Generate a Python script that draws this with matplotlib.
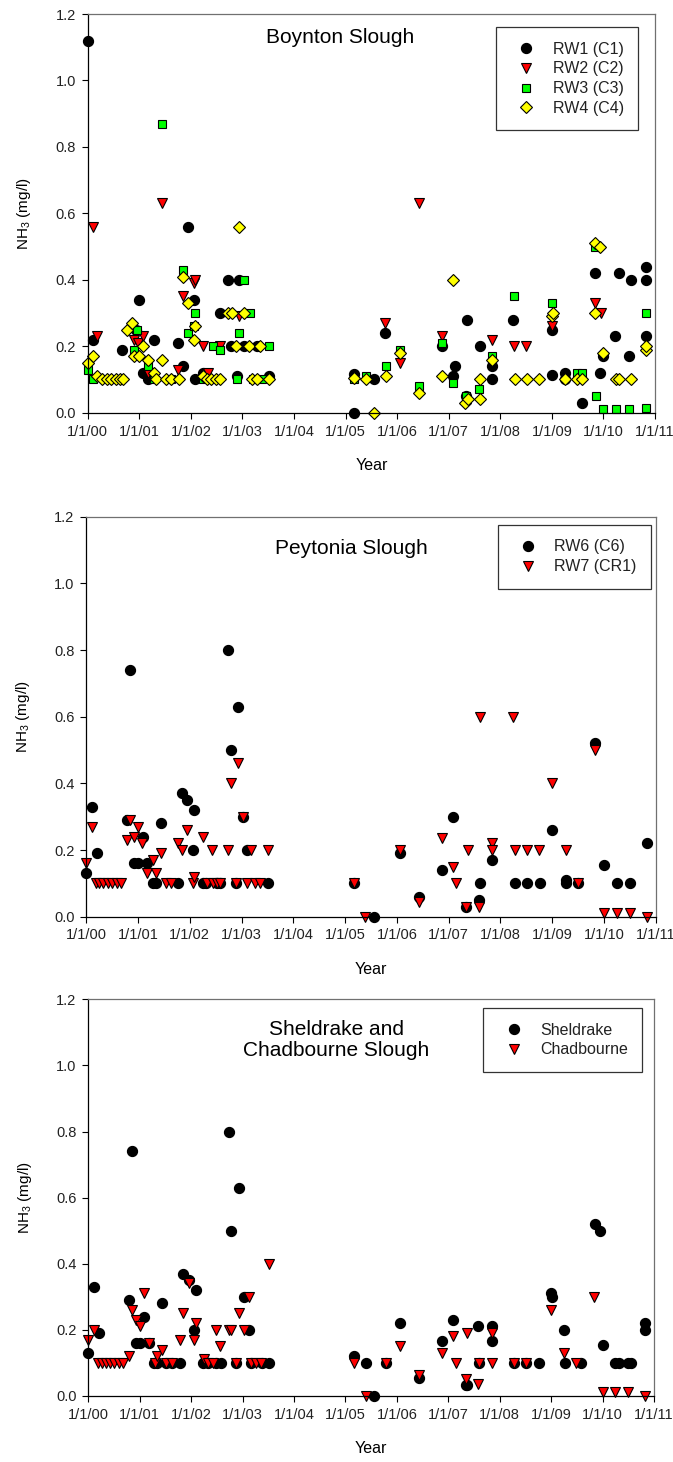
import matplotlib
matplotlib.use('Agg')
import matplotlib.pyplot as plt

plt.rcParams['font.family'] = ['Liberation Sans', 'DejaVu Sans']
plt.rcParams['mathtext.default'] = 'regular'

# --- Boynton Slough (decimal years, mg/l) ---
rw1_x = [2000.00, 2000.11, 2000.67, 2000.94, 2000.99, 2001.08, 2001.16, 2001.29, 2001.76, 2001.84,
         2001.94, 2002.06, 2002.09, 2002.24, 2002.57, 2002.72, 2002.78, 2002.89, 2002.93, 2003.03,
         2003.28, 2003.51,
         2005.17, 2005.17, 2005.55, 2005.77, 2006.87, 2007.08, 2007.13, 2007.34, 2007.35, 2007.60,
         2007.84, 2007.84, 2008.24, 2009.00, 2009.01, 2009.25, 2009.25, 2009.58, 2009.83, 2009.94,
         2010.00, 2010.23, 2010.31, 2010.49, 2010.54, 2010.83, 2010.83, 2010.83]
rw1_y = [1.12, 0.22, 0.19, 0.25, 0.34, 0.12, 0.10, 0.22, 0.21, 0.14,
         0.56, 0.34, 0.10, 0.12, 0.30, 0.40, 0.20, 0.11, 0.40, 0.20,
         0.20, 0.11,
         0.00, 0.116, 0.10, 0.24, 0.20, 0.11, 0.14, 0.05, 0.28, 0.20,
         0.14, 0.10, 0.28, 0.25, 0.114, 0.12, 0.10, 0.03, 0.42, 0.12,
         0.17, 0.23, 0.42, 0.17, 0.40, 0.44, 0.40, 0.23]

rw2_x = [2000.11, 2000.19, 2000.90, 2000.97, 2001.08, 2001.16, 2001.44, 2001.76, 2001.84, 2002.06,
         2002.09, 2002.24, 2002.34, 2002.57, 2002.94,
         2005.77, 2006.06, 2006.43, 2006.87, 2007.84, 2008.26, 2008.50, 2009.00, 2009.83, 2009.95]
rw2_y = [0.56, 0.23, 0.22, 0.21, 0.23, 0.12, 0.63, 0.13, 0.35, 0.39,
         0.40, 0.20, 0.12, 0.20, 0.29,
         0.27, 0.15, 0.63, 0.23, 0.22, 0.20, 0.20, 0.26, 0.33, 0.30]

rw3_x = [2000.00, 2000.10, 2000.90, 2000.95, 2001.16, 2001.28, 2001.44, 2001.61, 2001.84, 2001.94,
         2002.06, 2002.09, 2002.24, 2002.42, 2002.57, 2002.89, 2002.94, 2003.03, 2003.14, 2003.21,
         2003.37, 2003.52,
         2005.17, 2005.39, 2005.79, 2006.06, 2006.43, 2006.87, 2007.08, 2007.34, 2007.58, 2007.84,
         2008.26, 2009.00, 2009.48, 2009.58, 2009.84, 2009.86, 2010.00, 2010.25, 2010.49, 2010.83,
         2010.83]
rw3_y = [0.13, 0.10, 0.19, 0.25, 0.14, 0.10, 0.87, 0.10, 0.43, 0.24,
         0.26, 0.30, 0.10, 0.20, 0.19, 0.10, 0.24, 0.40, 0.30, 0.10,
         0.10, 0.20,
         0.10, 0.11, 0.14, 0.19, 0.08, 0.21, 0.09, 0.05, 0.07, 0.17,
         0.35, 0.33, 0.12, 0.12, 0.50, 0.05, 0.01, 0.01, 0.01, 0.015,
         0.30]

rw4_x = [2000.00, 2000.11, 2000.19, 2000.28, 2000.37, 2000.46, 2000.55, 2000.63, 2000.69, 2000.77,
         2000.85, 2000.90, 2001.00, 2001.08, 2001.17, 2001.29, 2001.33, 2001.44, 2001.52, 2001.61,
         2001.78, 2001.84, 2001.94, 2002.06, 2002.09, 2002.24, 2002.32, 2002.40, 2002.48, 2002.57,
         2002.73, 2002.79, 2002.88, 2002.94, 2003.03, 2003.12, 2003.19, 2003.28, 2003.35, 2003.51,
         2005.17, 2005.39, 2005.55, 2005.79, 2006.06, 2006.43, 2006.87, 2007.08, 2007.32, 2007.37,
         2007.60, 2007.60, 2007.84, 2008.29, 2008.52, 2008.75, 2009.00, 2009.02, 2009.26, 2009.48,
         2009.58, 2009.84, 2009.94, 2009.83, 2010.00, 2010.25, 2010.31, 2010.54, 2010.83, 2010.83]
rw4_y = [0.15, 0.17, 0.11, 0.10, 0.10, 0.10, 0.10, 0.10, 0.10, 0.25,
         0.27, 0.17, 0.17, 0.20, 0.16, 0.12, 0.10, 0.16, 0.10, 0.10,
         0.10, 0.41, 0.33, 0.22, 0.26, 0.11, 0.10, 0.10, 0.10, 0.10,
         0.30, 0.30, 0.20, 0.56, 0.30, 0.20, 0.10, 0.10, 0.20, 0.10,
         0.105, 0.10, 0.00, 0.11, 0.18, 0.06, 0.11, 0.40, 0.03, 0.04,
         0.04, 0.10, 0.16, 0.10, 0.10, 0.10, 0.29, 0.30, 0.10, 0.10,
         0.10, 0.51, 0.50, 0.30, 0.18, 0.10, 0.10, 0.10, 0.19, 0.20]

# --- Peytonia Slough ---
rw6_x = [2000.00, 2000.12, 2000.20, 2000.79, 2000.85, 2000.93, 2001.00, 2001.10, 2001.18, 2001.29,
         2001.34, 2001.45, 2001.78, 2001.84, 2001.94, 2002.06, 2002.09, 2002.25, 2002.32, 2002.52,
         2002.58, 2002.73, 2002.79, 2002.89, 2002.94, 2003.03, 2003.11, 2003.52,
         2005.17, 2005.55, 2006.06, 2006.43, 2006.87, 2007.09, 2007.33, 2007.59, 2007.60, 2007.83,
         2008.29, 2008.52, 2008.77, 2009.00, 2009.26, 2009.27, 2009.50, 2009.83, 2010.00, 2010.25,
         2010.51, 2010.84]
rw6_y = [0.13, 0.33, 0.19, 0.29, 0.74, 0.16, 0.16, 0.24, 0.16, 0.10,
         0.10, 0.28, 0.10, 0.37, 0.35, 0.20, 0.32, 0.10, 0.10, 0.10,
         0.10, 0.80, 0.50, 0.10, 0.63, 0.30, 0.20, 0.10,
         0.10, 0.00, 0.19, 0.06, 0.14, 0.30, 0.03, 0.05, 0.10, 0.17,
         0.10, 0.10, 0.10, 0.26, 0.11, 0.10, 0.10, 0.52, 0.155, 0.10,
         0.10, 0.22]

rw7_x = [2000.00, 2000.12, 2000.18, 2000.24, 2000.33, 2000.41, 2000.50, 2000.59, 2000.68, 2000.79,
         2000.85, 2000.93, 2001.00, 2001.08, 2001.18, 2001.29, 2001.34, 2001.45, 2001.54, 2001.63,
         2001.78, 2001.84, 2001.94, 2002.06, 2002.09, 2002.25, 2002.34, 2002.43, 2002.44, 2002.52,
         2002.58, 2002.73, 2002.79, 2002.89, 2002.94, 2003.03, 2003.11, 2003.19, 2003.26, 2003.35,
         2003.51,
         2005.17, 2005.39, 2006.06, 2006.43, 2006.87, 2007.09, 2007.14, 2007.33, 2007.38, 2007.59,
         2007.60, 2007.83, 2007.83, 2008.25, 2008.29, 2008.52, 2008.75, 2009.00, 2009.26, 2009.50,
         2009.83, 2010.00, 2010.25, 2010.51, 2010.84]
rw7_y = [0.16, 0.27, 0.10, 0.10, 0.10, 0.10, 0.10, 0.10, 0.10, 0.23,
         0.29, 0.24, 0.27, 0.22, 0.13, 0.17, 0.13, 0.19, 0.10, 0.10,
         0.22, 0.20, 0.26, 0.10, 0.12, 0.24, 0.10, 0.20, 0.10, 0.10,
         0.10, 0.20, 0.40, 0.10, 0.46, 0.30, 0.10, 0.20, 0.10, 0.10,
         0.20,
         0.10, 0.00, 0.20, 0.045, 0.235, 0.15, 0.10, 0.03, 0.20, 0.03,
         0.60, 0.22, 0.20, 0.60, 0.20, 0.20, 0.20, 0.40, 0.20, 0.10,
         0.50, 0.01, 0.01, 0.01, 0.00]

# --- Sheldrake and Chadbourne Slough ---
shel_x = [2000.00, 2000.12, 2000.21, 2000.80, 2000.85, 2000.93, 2001.00, 2001.09, 2001.19, 2001.28,
          2001.33, 2001.44, 2001.52, 2001.62, 2001.78, 2001.85, 2001.96, 2002.05, 2002.09, 2002.24,
          2002.32, 2002.49, 2002.59, 2002.73, 2002.78, 2002.88, 2002.93, 2003.02, 2003.12, 2003.16,
          2003.37, 2003.52,
          2005.17, 2005.39, 2005.55, 2005.79, 2006.07, 2006.43, 2006.88, 2007.09, 2007.34, 2007.36,
          2007.58, 2007.59, 2007.84, 2007.84, 2008.27, 2008.51, 2008.77, 2008.99, 2009.01, 2009.25,
          2009.27, 2009.58, 2009.85, 2009.94, 2010.00, 2010.24, 2010.31, 2010.50, 2010.55, 2010.83,
          2010.83]
shel_y = [0.13, 0.33, 0.19, 0.29, 0.74, 0.16, 0.16, 0.24, 0.16, 0.10,
          0.10, 0.28, 0.10, 0.10, 0.10, 0.37, 0.35, 0.20, 0.32, 0.10,
          0.10, 0.10, 0.10, 0.80, 0.50, 0.10, 0.63, 0.30, 0.20, 0.10,
          0.10, 0.10,
          0.12, 0.10, 0.00, 0.10, 0.22, 0.055, 0.165, 0.23, 0.033, 0.033,
          0.21, 0.10, 0.21, 0.165, 0.10, 0.10, 0.10, 0.31, 0.30, 0.20,
          0.10, 0.10, 0.52, 0.50, 0.155, 0.10, 0.10, 0.10, 0.10, 0.22,
          0.20]

chad_x = [2000.00, 2000.12, 2000.19, 2000.26, 2000.34, 2000.42, 2000.50, 2000.59, 2000.68, 2000.80,
          2000.85, 2000.93, 2001.00, 2001.09, 2001.19, 2001.30, 2001.33, 2001.44, 2001.52, 2001.62,
          2001.78, 2001.85, 2001.96, 2002.05, 2002.09, 2002.25, 2002.33, 2002.42, 2002.49, 2002.57,
          2002.73, 2002.78, 2002.88, 2002.93, 2003.02, 2003.12, 2003.17, 2003.26, 2003.35, 2003.52,
          2005.17, 2005.39, 2005.79, 2006.07, 2006.43, 2006.88, 2007.09, 2007.15, 2007.34, 2007.36,
          2007.59, 2007.58, 2007.84, 2007.84, 2008.27, 2008.51, 2008.99, 2009.25, 2009.49, 2009.83,
          2010.00, 2010.24, 2010.50, 2010.83]
chad_y = [0.17, 0.20, 0.10, 0.10, 0.10, 0.10, 0.10, 0.10, 0.10, 0.12,
          0.26, 0.23, 0.21, 0.31, 0.16, 0.10, 0.12, 0.14, 0.10, 0.10,
          0.17, 0.25, 0.34, 0.17, 0.22, 0.11, 0.10, 0.10, 0.20, 0.15,
          0.20, 0.20, 0.10, 0.25, 0.20, 0.30, 0.10, 0.10, 0.10, 0.40,
          0.10, 0.00, 0.10, 0.15, 0.063, 0.13, 0.18, 0.10, 0.05, 0.19,
          0.10, 0.037, 0.19, 0.10, 0.10, 0.10, 0.26, 0.13, 0.10, 0.30,
          0.01, 0.01, 0.01, 0.00]

years = list(range(2000, 2012))
year_labels = ['1/1/%02d' % (y % 100) for y in years]
y_ticks = [0.0, 0.2, 0.4, 0.6, 0.8, 1.0, 1.2]

circle = dict(marker='o', ms=7.3, mfc='black', mec='black', mew=0.8)
tri = dict(marker='v', ms=7.8, mfc='#FF0000', mec='black', mew=0.8)
square = dict(marker='s', ms=6.2, mfc='#00FF00', mec='black', mew=0.8)
diamond = dict(marker='D', ms=5.9, mfc='#FFFF00', mec='black', mew=0.8)

fig = plt.figure(figsize=(6.73, 14.62), dpi=100)
ax1 = fig.add_axes([0.1303, 0.7177, 0.8430, 0.2727])
ax2 = fig.add_axes([0.1282, 0.3730, 0.8460, 0.2736])
ax3 = fig.add_axes([0.1312, 0.0453, 0.8406, 0.2711])


def style_axes(ax):
    ax.set_xlim(2000, 2011)
    ax.set_ylim(0, 1.2)
    ax.set_xticks(years)
    ax.set_xticklabels(year_labels)
    ax.set_yticks(y_ticks)
    ax.set_yticklabels(['%.1f' % v for v in y_ticks])
    ax.tick_params(direction='out', length=4.5, width=0.8, labelsize=10.5, pad=4,
                   colors='black', labelcolor='#222222')
    for s in ['left', 'bottom']:
        ax.spines[s].set_color('black')
        ax.spines[s].set_linewidth(0.9)
    for s in ['top', 'right']:
        ax.spines[s].set_color('#707070')
        ax.spines[s].set_linewidth(0.9)
    ax.set_xlabel('Year', fontsize=11.5, labelpad=14)
    ax.set_ylabel('NH$_3$ (mg/l)', fontsize=11, labelpad=16)


def add_legend(ax, anchor):
    leg = ax.legend(loc='upper right', bbox_to_anchor=anchor, borderaxespad=0,
                    numpoints=1, fontsize=11.5, frameon=True, fancybox=False,
                    edgecolor='black', handlelength=2.0, handletextpad=0.65,
                    borderpad=0.9, labelspacing=0.3)
    leg.get_frame().set_linewidth(0.9)
    for t in leg.get_texts():
        t.set_color('#222222')


# Boynton Slough
ax1.plot(rw1_x, rw1_y, ls='none', label='RW1 (C1)', clip_on=False, **circle)
ax1.plot(rw2_x, rw2_y, ls='none', label='RW2 (C2)', clip_on=False, **tri)
ax1.plot(rw3_x, rw3_y, ls='none', label='RW3 (C3)', clip_on=False, **square)
ax1.plot(rw4_x, rw4_y, ls='none', label='RW4 (C4)', clip_on=False, **diamond)
style_axes(ax1)
ax1.text(0.445, 0.94, 'Boynton Slough', transform=ax1.transAxes, ha='center', va='center',
         fontsize=15)
add_legend(ax1, (0.970, 0.967))

# Peytonia Slough
ax2.plot(rw6_x, rw6_y, ls='none', label='RW6 (C6)', clip_on=False, **circle)
ax2.plot(rw7_x, rw7_y, ls='none', label='RW7 (CR1)', clip_on=False, **tri)
style_axes(ax2)
ax2.text(0.465, 0.92, 'Peytonia Slough', transform=ax2.transAxes, ha='center', va='center',
         fontsize=15)
add_legend(ax2, (0.992, 0.979))

# Sheldrake and Chadbourne Slough
ax3.plot(shel_x, shel_y, ls='none', label='Sheldrake', clip_on=False, **circle)
ax3.plot(chad_x, chad_y, ls='none', label='Chadbourne', clip_on=False, **tri)
style_axes(ax3)
ax3.text(0.438, 0.898, 'Sheldrake and\nChadbourne Slough', transform=ax3.transAxes,
         ha='center', va='center', fontsize=15, linespacing=1.1)
add_legend(ax3, (0.979, 0.978))

fig.savefig('out.png', dpi=100)
